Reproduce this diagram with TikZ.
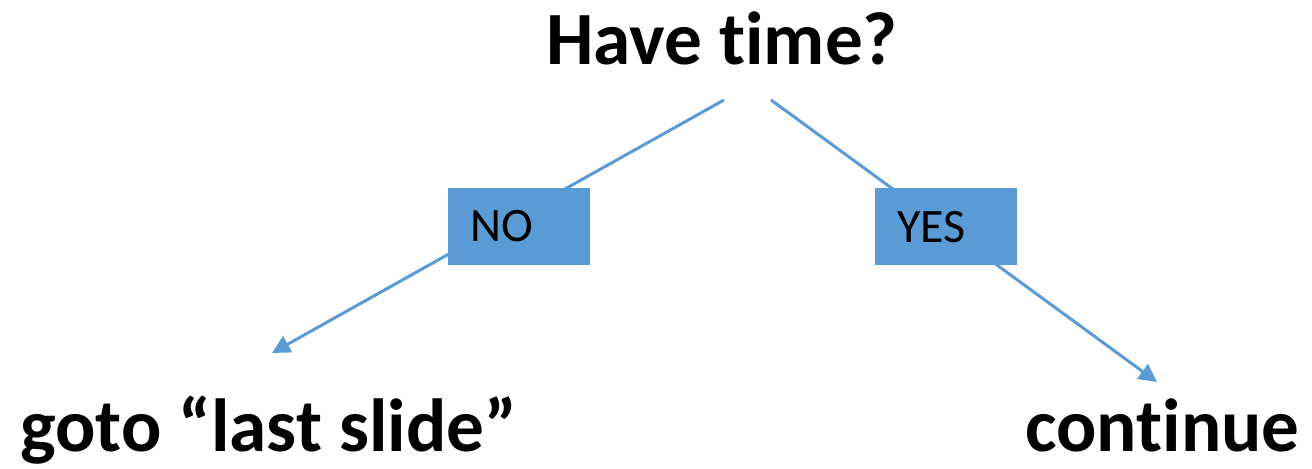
\documentclass[tikz,border=0pt]{standalone}
\usepackage{fontspec}
\setmainfont{Carlito}[RawFeature={-liga;-clig;-calt;-dlig}]
\usetikzlibrary{arrows.meta}
\definecolor{officeblue}{HTML}{5B9BD5}
\tikzset{
  bigtext/.style={inner sep=0pt, font=\bfseries\fontsize{37.6}{42}\selectfont},
  labelbox/.style={fill=officeblue, minimum height=38.5pt, inner xsep=11pt, inner ysep=0pt,
    text width=49pt, align=left, font=\fontsize{24}{28}\selectfont},
  branch/.style={officeblue, line width=1.5pt, -{Triangle[length=9pt,width=9pt]}}
}
\begin{document}
\begin{tikzpicture}[x=0.5pt, y=0.5pt]
          \useasboundingbox (0,0) rectangle (1312,469);
          \node[bigtext, anchor=base] (question) at (722,404) {Have time?};
          \node[bigtext, anchor=base west] (gotolast) at (20,17) {goto “last slide”};
          \node[bigtext, anchor=base east] (cont) at (1300,17) {continue};
          \node[coordinate] (nostart) at (724,369) {};
          \node[coordinate] (noend) at (272,116) {};
          \node[coordinate] (yesstart) at (771,369) {};
          \node[coordinate] (yesend) at (1157,87) {};
          \draw[branch] (nostart) -- (noend);
          \draw[branch] (yesstart) -- (yesend);
          \node[labelbox] (nobox) at (519,242.5) {NO};
          \node[labelbox] (yesbox) at (946,242) {YES};
        \end{tikzpicture}
\end{document}
